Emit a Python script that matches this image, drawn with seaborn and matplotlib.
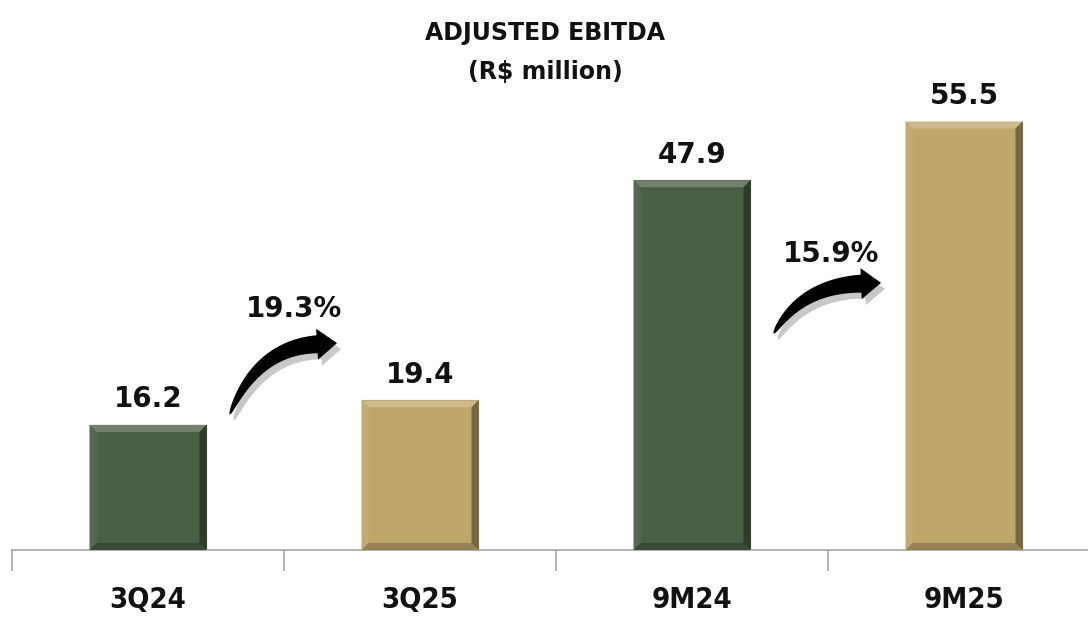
import matplotlib
matplotlib.use("Agg")
import matplotlib.pyplot as plt
import seaborn as sns
import pandas as pd
import numpy as np
from matplotlib.patches import Polygon

categories = ["3Q24", "3Q25", "9M24", "9M25"]
ebitda = [16.2, 19.4, 47.9, 55.5]
growth_labels = ["19.3%", "15.9%"]
bar_colors = ["#4b5e46", "#bfa66b"]

df = pd.DataFrame({"period": categories, "ebitda": ebitda,
                   "kind": ["prev", "curr", "prev", "curr"]})

sns.set_theme(style="white")
plt.rcParams["font.family"] = ["DejaVu Sans"]

W, H = 1088, 628
fig = plt.figure(figsize=(W / 100, H / 100), dpi=100)
ax = fig.add_axes([12 / W, 78 / H, 1088 / W, 550 / H])

sns.barplot(data=df, x="period", y="ebitda", hue="kind",
            palette=bar_colors, dodge=False, width=0.43,
            legend=False, ax=ax, saturation=1)

ax.set_xlim(-0.5, 3.5)
ax.set_ylim(0, 550 / 7.72)


def lighten(c, f):
    return tuple(min(1, v + (1 - v) * f) for v in c[:3])


def darken(c, f):
    return tuple(v * (1 - f) for v in c[:3])


# bevelled look on every bar
bx = 7 / 272
by = 7 / 7.72
for p in list(ax.patches):
    x0, w, h = p.get_x(), p.get_width(), p.get_height()
    x1 = x0 + w
    base = p.get_facecolor()
    ax.add_patch(Polygon([(x0, h), (x1, h), (x1 - bx, h - by), (x0 + bx, h - by)],
                         closed=True, color=lighten(base, 0.22), lw=0, zorder=3))
    ax.add_patch(Polygon([(x1, h), (x1, 0), (x1 - bx, by), (x1 - bx, h - by)],
                         closed=True, color=darken(base, 0.38), lw=0, zorder=3))
    ax.add_patch(Polygon([(x0, h), (x0 + bx, h - by), (x0 + bx, by), (x0, 0)],
                         closed=True, color=lighten(base, 0.06), lw=0, zorder=3))
    ax.add_patch(Polygon([(x0, 0), (x1, 0), (x1 - bx, by), (x0 + bx, by)],
                         closed=True, color=darken(base, 0.22), lw=0, zorder=3))
    p.set_edgecolor(darken(base, 0.3))
    p.set_linewidth(0.8)

# value labels
for i, v in enumerate(ebitda):
    ax.text(i, v + 1.5, f"{v:.1f}", ha="center", va="bottom",
            fontsize=20, fontweight="bold", color="#111111")


def curved_arrow(ax, start, tip, bend, shaft_w=18, head_w=31, head_l=20,
                 offset=(0, 0), color="black", zorder=5):
    """Tapered curved arrow built in display space, placed in data space."""
    T = ax.transData
    p0 = T.transform(start) + np.array(offset)
    p2 = T.transform(tip) + np.array(offset)
    c = T.transform(bend) + np.array(offset)
    # direction at the end of the curve decides the head orientation
    d = p2 - c
    d = d / np.hypot(*d)
    e = p2 - d * head_l
    t = np.linspace(0, 1, 60)[:, None]
    curve = (1 - t) ** 2 * p0 + 2 * (1 - t) * t * c + t ** 2 * e
    tang = np.gradient(curve, axis=0)
    tang /= np.hypot(tang[:, 0], tang[:, 1])[:, None]
    normal = np.column_stack([-tang[:, 1], tang[:, 0]])
    half = (shaft_w / 2) * np.sqrt(t[:, 0])[:, None]
    left = curve + normal * half
    right = curve - normal * half
    n_end = np.array([-d[1], d[0]])
    head = [e + n_end * head_w / 2, p2, e - n_end * head_w / 2]
    pts = np.vstack([left, head, right[::-1]])
    pts = T.inverted().transform(pts)
    ax.add_patch(Polygon(pts, closed=True, color=color, lw=0, zorder=zorder))


# growth arrows between periods (start, tip, bend point, label position)
arrows = [((0.30, 17.5), (0.695, 26.8), (0.40, 26.2), (0.535, 31.2)),
          ((2.30, 28.0), (2.695, 34.6), (2.40, 34.2), (2.51, 38.3))]
for (start, tip, bend, lab), text in zip(arrows, growth_labels):
    curved_arrow(ax, start, tip, bend, offset=(4, -6), color="#c8c8c8", zorder=4)
    curved_arrow(ax, start, tip, bend, color="black", zorder=5)
    ax.text(lab[0], lab[1], text, ha="center", va="center",
            fontsize=20, fontweight="bold", color="#111111")

# axis styling
for s in ["top", "right", "left"]:
    ax.spines[s].set_visible(False)
ax.spines["bottom"].set_color("#a6a6a6")
ax.spines["bottom"].set_linewidth(1.2)
ax.set_yticks([])
ax.set_xlabel("")
ax.set_ylabel("")
ax.set_xticks([-0.5, 0.5, 1.5, 2.5, 3.5], minor=True)
ax.tick_params(axis="x", which="minor", length=15, width=1.2,
               color="#a6a6a6", direction="out", bottom=True)
ax.tick_params(axis="x", which="major", length=0, pad=26)
for t in ax.get_xticklabels():
    t.set_fontfamily("DejaVu Sans")
    t.set_fontstretch("condensed")
    t.set_fontweight("bold")
    t.set_fontsize(21)
    t.set_color("#111111")

fig.text(545 / W, 1 - 33 / H, "ADJUSTED EBITDA", ha="center", va="center",
         fontsize=17, fontweight="bold", color="#111111")
fig.text(545 / W, 1 - 72 / H, "(R$ million)", ha="center", va="center",
         fontsize=17, fontweight="bold", color="#111111")

fig.savefig("out.png", dpi=100)
